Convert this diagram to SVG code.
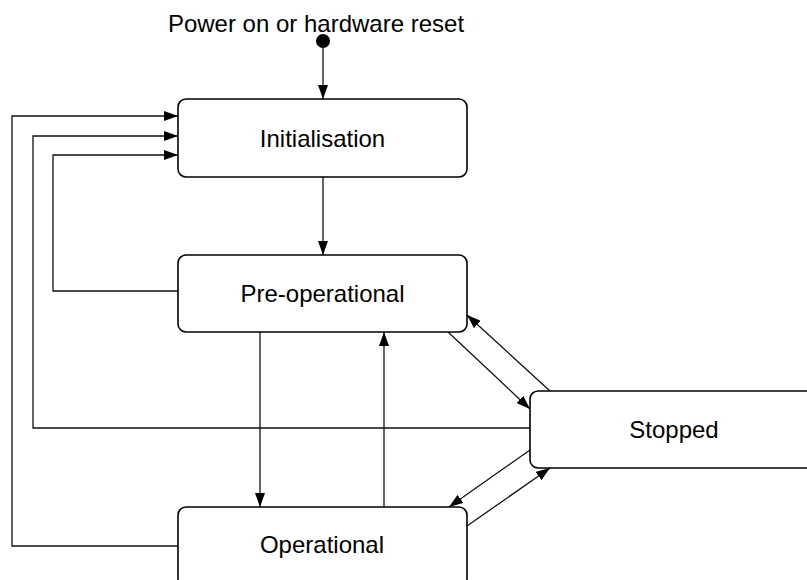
<svg xmlns="http://www.w3.org/2000/svg" width="807" height="580" viewBox="0 0 807 580">
  <style>
    .state rect { fill: #ffffff; stroke: #000000; stroke-width: 1.6; }
    .state text, .caption { font-family: "Liberation Sans", Arial, sans-serif; font-size: 24px; fill: #000000; text-anchor: middle; }
    .wire { fill: none; stroke: #111111; stroke-width: 1.3; marker-end: url(#head); }
    .wire.plain { marker-end: none; }
  </style>
  <defs>
    <marker id="head" viewBox="0 0 14 10" refX="14" refY="5" markerWidth="14" markerHeight="10" markerUnits="userSpaceOnUse" orient="auto">
      <path d="M0,0 L14,5 L0,10 Z" fill="#000000"/>
    </marker>
  </defs>

  <rect width="807" height="580" fill="#ffffff"/>

  <!-- transitions -->
  <g id="connectors">
    <!-- power on: initial pseudo-state -->
    <circle cx="323" cy="41" r="7" fill="#000000"/>
    <path class="wire" d="M323,41 L323,99"/>
    <!-- Initialisation -> Pre-operational -->
    <path class="wire" d="M323,177 L323,255"/>
    <!-- Pre-operational -> Operational -->
    <path class="wire" d="M260,332 L260,507"/>
    <!-- Operational -> Pre-operational -->
    <path class="wire" d="M384,507 L384,332"/>
    <!-- Pre-operational -> Stopped -->
    <path class="wire" d="M448,332 L530,409"/>
    <!-- Stopped -> Pre-operational -->
    <path class="wire" d="M550,391 L467,315"/>
    <!-- Stopped -> Operational -->
    <path class="wire" d="M530,450 L449,507"/>
    <!-- Operational -> Stopped -->
    <path class="wire" d="M467,526 L550,468"/>
    <!-- reset paths back to Initialisation -->
    <path class="wire" d="M178,546 L12,546 L12,116 L178,116"/>
    <path class="wire" d="M530,428 L33,428 L33,136 L178,136"/>
    <path class="wire" d="M178,291 L53,291 L53,155 L178,155"/>
  </g>

  <text class="caption" x="316" y="32">Power on or hardware reset</text>

  <g id="initialisation" class="state">
    <rect x="178" y="99" width="289" height="78" rx="8"/>
    <text x="322.5" y="147">Initialisation</text>
  </g>

  <g id="pre-operational" class="state">
    <rect x="178" y="255" width="289" height="77" rx="8"/>
    <text x="322.5" y="302">Pre-operational</text>
  </g>

  <g id="stopped" class="state">
    <rect x="530" y="391" width="290" height="77" rx="8"/>
    <text x="674" y="438">Stopped</text>
  </g>

  <g id="operational" class="state">
    <rect x="178" y="507" width="289" height="80" rx="8"/>
    <text x="322" y="553">Operational</text>
  </g>
</svg>
